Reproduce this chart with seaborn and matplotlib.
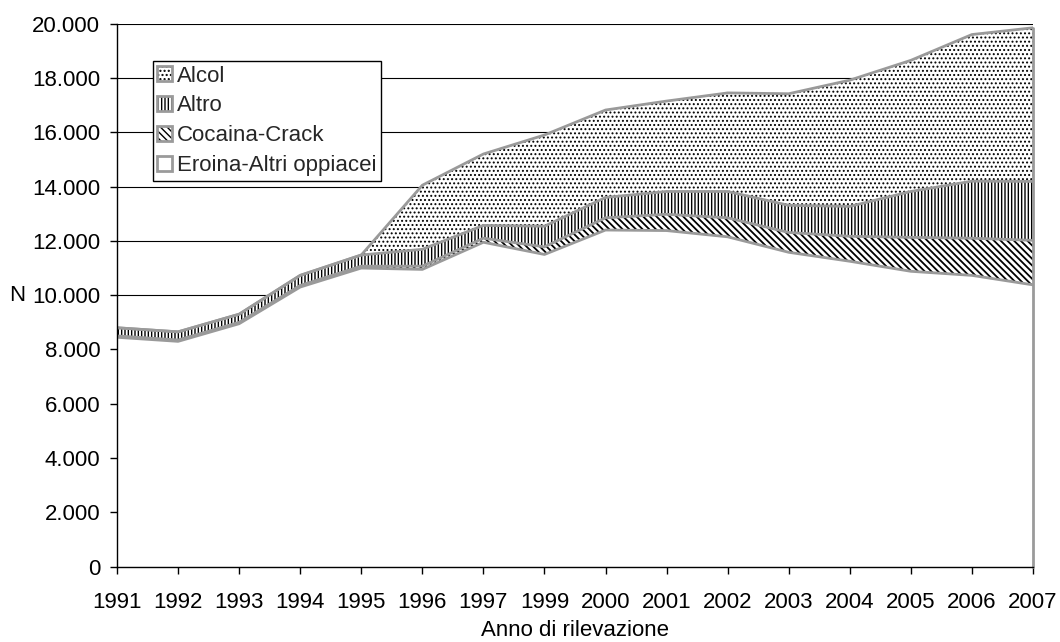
import matplotlib
matplotlib.use("Agg")
import matplotlib.pyplot as plt
from matplotlib.patches import Patch
from matplotlib.legend_handler import HandlerTuple
from matplotlib.ticker import FuncFormatter
import seaborn as sns
import numpy as np
import pandas as pd

# Dati (persone in trattamento per sostanza primaria)
years = ["1991", "1992", "1993", "1994", "1995", "1996", "1997", "1999",
         "2000", "2001", "2002", "2003", "2004", "2005", "2006", "2007"]
eroina = [8450, 8300, 8950, 10300, 11000, 10950, 11950, 11500,
          12400, 12380, 12150, 11580, 11250, 10880, 10730, 10380]
cocaina = [50, 50, 50, 60, 70, 120, 150, 280,
           450, 600, 700, 730, 920, 1250, 1370, 1640]
altro = [300, 300, 300, 370, 410, 620, 470, 760,
         750, 840, 970, 1000, 1100, 1690, 2100, 2170]
alcol = [0, 0, 0, 0, 0, 2360, 2630, 3360,
         3220, 3330, 3630, 4110, 4650, 4830, 5400, 5660]

series_names = ["Eroina-Altri oppiacei", "Cocaina-Crack", "Altro", "Alcol"]
series_hatch = ["", "\\\\\\\\\\", "|||||", "...."]
hatch_lw = [0.9, 1.3, 1.0, 0.9]
outline = "#9a9a9a"

sns.set_theme(style="white")
plt.rcParams['font.family'] = ['Liberation Sans', 'DejaVu Sans']
plt.rcParams['hatch.color'] = 'black'

fig, ax = plt.subplots(figsize=(10.6, 6.42), dpi=100)
fig.subplots_adjust(left=0.1104, right=0.9745, bottom=0.1173, top=0.9631)

x = np.arange(len(years))
base = np.zeros(len(years))
rows = []
for name, vals, hatch, hlw in zip(series_names, [eroina, cocaina, altro, alcol],
                                  series_hatch, hatch_lw):
    top = base + np.array(vals)
    with plt.rc_context({'hatch.linewidth': hlw}):
        ax.fill_between(x, base, top, facecolor='white', edgecolor='black',
                        hatch=hatch, linewidth=0, zorder=2)
    rows.append(pd.DataFrame({'x': x, 'y': top, 'serie': name}))
    base = top

df = pd.concat(rows, ignore_index=True)
sns.lineplot(data=df, x='x', y='y', units='serie', estimator=None,
             color=outline, linewidth=2, ax=ax, zorder=3, legend=False)
# bordo destro dell'area
ax.plot([x[-1], x[-1]], [0, base[-1]], color=outline, lw=2, zorder=3, clip_on=False)

ax.set_xlim(0, len(years) - 1)
ax.set_ylim(0, 20000)
ax.set_xticks(x)
ax.set_xticklabels(years)
ax.set_yticks(np.arange(0, 20001, 2000))
ax.yaxis.set_major_formatter(FuncFormatter(lambda v, p: f"{int(v):,}".replace(",", ".")))

ax.yaxis.grid(True, color='black', linewidth=0.8)
ax.xaxis.grid(False)
ax.set_axisbelow(True)

for s in ['top', 'right']:
    ax.spines[s].set_visible(False)
for s in ['left', 'bottom']:
    ax.spines[s].set_color('black')
    ax.spines[s].set_linewidth(1)
    ax.spines[s].set_zorder(4)

ax.tick_params(axis='x', direction='out', length=5, width=1, color='black',
               labelsize=16, labelcolor='black', bottom=True, pad=13)
ax.tick_params(axis='y', direction='out', length=5, width=1, color='black',
               labelsize=16, labelcolor='black', left=True, pad=7)

ax.set_xlabel("Anno di rilevazione", fontsize=16, color='black', labelpad=5)
ax.set_ylabel("N", rotation=0, ha='right', va='center', fontsize=16, color='black')
ax.yaxis.set_label_coords(-0.100, 0.5)

# legenda in ordine inverso
handles = []
labels = []
for name, hatch, hlw in zip(series_names[::-1], series_hatch[::-1], hatch_lw[::-1]):
    with plt.rc_context({'hatch.linewidth': hlw}):
        hatch_patch = Patch(facecolor='white', edgecolor='black', hatch=hatch, linewidth=0)
    handles.append((hatch_patch, Patch(facecolor='none', edgecolor=outline, linewidth=2)))
    labels.append(name)
leg = ax.legend(handles, labels, handler_map={tuple: HandlerTuple(ndivide=1)},
                loc='upper left', bbox_to_anchor=(0.039, 0.931), borderaxespad=0,
                frameon=True, fancybox=False, edgecolor='black', framealpha=1,
                fontsize=16, handlelength=0.68, handleheight=0.68, handletextpad=0.2,
                labelspacing=0.4, borderpad=0.2)
leg.get_frame().set_linewidth(1)

fig.savefig("out.png", dpi=100)
